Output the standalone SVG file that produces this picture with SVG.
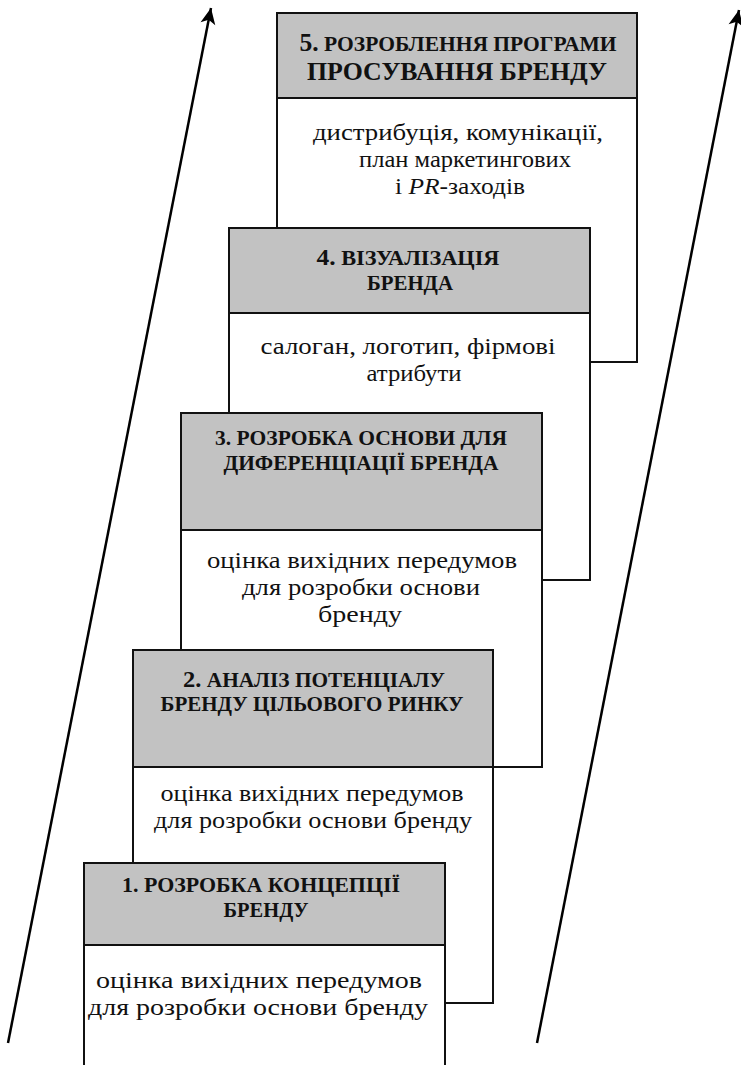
<svg xmlns="http://www.w3.org/2000/svg" width="741" height="1065" viewBox="0 0 741 1065">
<defs>
<style>
.box{fill:#ffffff;stroke:#111;stroke-width:2}
.hdr{fill:#c2c2c2;stroke:#111;stroke-width:2}
.h{font-family:"Liberation Serif","Times New Roman",serif;font-weight:bold;fill:#111;text-anchor:middle}
.b{font-family:"Liberation Serif","Times New Roman",serif;font-size:24px;fill:#111;text-anchor:middle}
.arrow{stroke:#000;stroke-width:2.5;fill:none}
</style>
<marker id="ah" markerUnits="userSpaceOnUse" markerWidth="20" markerHeight="20" viewBox="0 0 20 20" refX="18" refY="10" orient="auto">
<path d="M18,10 L2,2.5 L6,10 L2,17.5 Z" fill="#000"/>
</marker>
</defs>
<rect width="741" height="1065" fill="#ffffff"/>
<g id="connectors">
<line class="arrow" x1="8" y1="1043" x2="211" y2="8" marker-end="url(#ah)"/>
<line class="arrow" x1="537" y1="1043" x2="739" y2="10" marker-end="url(#ah)"/>
</g>
<g id="step5">
<rect class="box" x="277" y="13" width="360" height="349"/>
<rect class="hdr" x="277" y="13" width="360" height="85"/>
<text class="h" x="458" y="51" font-size="21" textLength="317" lengthAdjust="spacingAndGlyphs"><tspan font-size="25">5.</tspan> РОЗРОБЛЕННЯ ПРОГРАМИ</text>
<text class="h" x="457" y="80" font-size="26" textLength="300" lengthAdjust="spacingAndGlyphs">ПРОСУВАННЯ БРЕНДУ</text>
<text class="b" x="458" y="140" textLength="290" lengthAdjust="spacingAndGlyphs">дистрибуція, комунікації,</text>
<text class="b" x="465" y="167" textLength="212" lengthAdjust="spacingAndGlyphs">план маркетингових</text>
<text class="b" x="460" y="194" textLength="130" lengthAdjust="spacingAndGlyphs">і <tspan font-style="italic">PR</tspan>-заходів</text>
</g>
<g id="step4">
<rect class="box" x="229" y="228" width="361" height="352"/>
<rect class="hdr" x="229" y="228" width="361" height="85"/>
<text class="h" x="408" y="265" font-size="21" textLength="183" lengthAdjust="spacingAndGlyphs"><tspan font-size="24">4.</tspan> ВІЗУАЛІЗАЦІЯ</text>
<text class="h" x="410" y="290" font-size="21" textLength="86" lengthAdjust="spacingAndGlyphs">БРЕНДА</text>
<text class="b" x="408" y="354" textLength="295" lengthAdjust="spacingAndGlyphs">салоган, логотип, фірмові</text>
<text class="b" x="414" y="381" textLength="95" lengthAdjust="spacingAndGlyphs">атрибути</text>
</g>
<g id="step3">
<rect class="box" x="181" y="413" width="361" height="354"/>
<rect class="hdr" x="181" y="413" width="361" height="117"/>
<text class="h" x="361" y="445" font-size="21" textLength="292" lengthAdjust="spacingAndGlyphs">3. РОЗРОБКА ОСНОВИ ДЛЯ</text>
<text class="h" x="361" y="470" font-size="21" textLength="275" lengthAdjust="spacingAndGlyphs">ДИФЕРЕНЦІАЦІЇ БРЕНДА</text>
<text class="b" x="362" y="568" textLength="310" lengthAdjust="spacingAndGlyphs">оцінка вихідних передумов</text>
<text class="b" x="361" y="595" textLength="238" lengthAdjust="spacingAndGlyphs">для розробки основи</text>
<text class="b" x="360" y="622" textLength="84" lengthAdjust="spacingAndGlyphs">бренду</text>
</g>
<g id="step2">
<rect class="box" x="133" y="650" width="360" height="353"/>
<rect class="hdr" x="133" y="650" width="360" height="117"/>
<text class="h" x="314" y="687" font-size="20" textLength="262" lengthAdjust="spacingAndGlyphs"><tspan font-size="23">2.</tspan> АНАЛІЗ ПОТЕНЦІАЛУ</text>
<text class="h" x="312" y="711" font-size="20" textLength="303" lengthAdjust="spacingAndGlyphs">БРЕНДУ ЦІЛЬОВОГО РИНКУ</text>
<text class="b" x="312" y="801" textLength="303" lengthAdjust="spacingAndGlyphs">оцінка вихідних передумов</text>
<text class="b" x="313" y="828" textLength="318" lengthAdjust="spacingAndGlyphs">для розробки основи бренду</text>
</g>
<g id="step1">
<rect class="box" x="84" y="863" width="361" height="215"/>
<rect class="hdr" x="84" y="863" width="361" height="82"/>
<text class="h" x="261" y="892" font-size="21" textLength="278" lengthAdjust="spacingAndGlyphs">1. РОЗРОБКА КОНЦЕПЦІЇ</text>
<text class="h" x="266" y="917" font-size="21" textLength="85" lengthAdjust="spacingAndGlyphs">БРЕНДУ</text>
<text class="b" x="259" y="988" font-size="24.3" textLength="326" lengthAdjust="spacingAndGlyphs">оцінка вихідних передумов</text>
<text class="b" x="258" y="1015" font-size="24.3" textLength="340" lengthAdjust="spacingAndGlyphs">для розробки основи бренду</text>
</g>
</svg>
